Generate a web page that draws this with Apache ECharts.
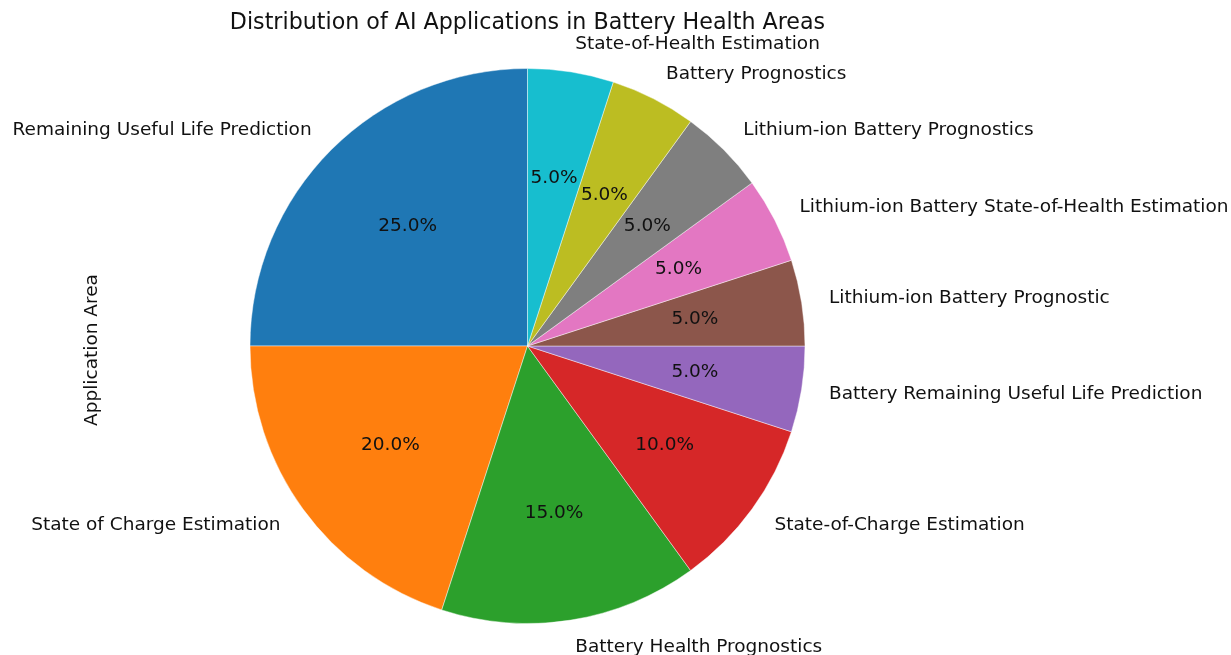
<!DOCTYPE html>
<html>
<head>
<meta charset="utf-8">
<script src="https://cdn.jsdelivr.net/npm/echarts@6/dist/echarts.min.js"></script>
<style>
  html, body { margin: 0; padding: 0; background: #fff; }
  #chart { width: 1231px; height: 655px; }
</style>
</head>
<body>
<div id="chart"></div>
<script>
// Application areas and how many studies fall into each
const categories = [
  'Remaining Useful Life Prediction',
  'State of Charge Estimation',
  'Battery Health Prognostics',
  'State-of-Charge Estimation',
  'Battery Remaining Useful Life Prediction',
  'Lithium-ion Battery Prognostic',
  'Lithium-ion Battery State-of-Health Estimation',
  'Lithium-ion Battery Prognostics',
  'Battery Prognostics',
  'State-of-Health Estimation'
];
const counts = [5, 4, 3, 2, 1, 1, 1, 1, 1, 1];
const colors = ['#1f77b4', '#ff7f0e', '#2ca02c', '#d62728', '#9467bd',
                '#8c564b', '#e377c2', '#7f7f7f', '#bcbd22', '#17becf'];

const titleText = 'Distribution of AI Applications in Battery Health Areas';
const yLabel = 'Application Area';

const cx = 527.5, cy = 346, R = 277.5;
const FONT = 'DejaVu Sans';
const labelSize = 18.5;
const titleSize = 22.2;

const data = categories.map((name, i) => ({ name, value: counts[i] }));

const chart = echarts.init(document.getElementById('chart'), null, { renderer: 'canvas' });

chart.setOption({
  backgroundColor: '#ffffff',
  animation: false,
  color: colors,
  title: {
    text: titleText,
    left: cx - 5,   // title box carries 5px of padding
    top: 7,
    textAlign: 'center',
    textStyle: { fontFamily: FONT, fontSize: titleSize, fontWeight: 'normal', color: '#111' }
  },
  graphic: [{
    type: 'text',
    x: 92, y: 350,
    rotation: Math.PI / 2,
    style: {
      text: yLabel, fontFamily: FONT, fontSize: labelSize, fill: '#111',
      align: 'center', verticalAlign: 'middle'
    }
  }],
  series: [
    {
      // wedges with the category names just outside the rim
      type: 'pie',
      center: [cx, cy],
      radius: [0, R],
      startAngle: 90,
      clockwise: false,
      avoidLabelOverlap: false,
      minShowLabelAngle: 0,
      data: data,
      itemStyle: { borderWidth: 0.8, borderColor: 'rgba(255,255,255,0.55)' },
      label: {
        show: true,
        position: 'outside',
        formatter: '{b}',
        distanceToLabelLine: 0,
        fontFamily: FONT,
        fontSize: labelSize,
        color: '#111'
      },
      labelLine: { show: false, length: R * 0.1, length2: 0 },
      emphasis: { disabled: true }
    },
    {
      // transparent overlay that places the percentages at 0.6 R
      type: 'pie',
      center: [cx, cy],
      radius: [0, R * 1.2],
      startAngle: 90,
      clockwise: false,
      avoidLabelOverlap: false,
      minShowLabelAngle: 0,
      silent: true,
      data: data,
      itemStyle: { color: 'rgba(0,0,0,0)', borderWidth: 0 },
      label: {
        show: true,
        position: 'inside',
        formatter: p => p.percent.toFixed(1) + '%',
        fontFamily: FONT,
        fontSize: labelSize,
        color: '#111'
      },
      labelLine: { show: false },
      emphasis: { disabled: true }
    }
  ]
});
</script>
</body>
</html>
